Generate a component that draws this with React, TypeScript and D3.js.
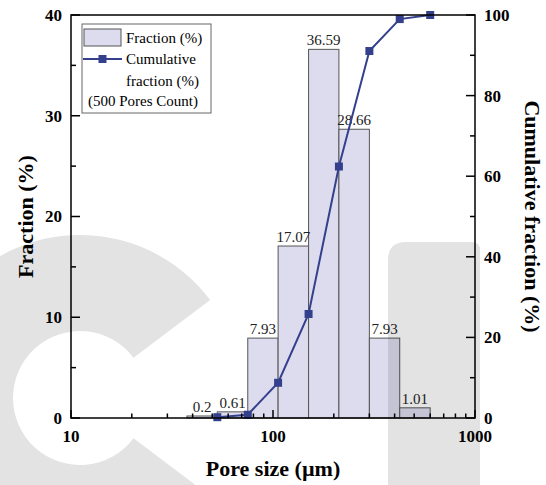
import React from "react";
import * as d3 from "d3";

const binEdges = [37.5, 53, 75, 106, 150, 212, 300, 424, 600];
const fractions = [0.2, 0.61, 7.93, 17.07, 36.59, 28.66, 7.93, 1.01];
const fractionLabels = ["0.2", "0.61", "7.93", "17.07", "36.59", "28.66", "7.93", "1.01"];
const cumX = [53, 75, 106, 150, 212, 300, 424, 600];
const cumulative = [0.2, 0.81, 8.74, 25.81, 62.4, 91.06, 98.99, 100];
const xTicksMajor = [10, 100, 1000];
const xTicksMinor = [20, 30, 40, 50, 60, 70, 80, 90, 200, 300, 400, 500, 600, 700, 800, 900];
const yLeftMajor = [0, 10, 20, 30, 40];
const yLeftMinor = [5, 15, 25, 35];
const yRightMajor = [0, 20, 40, 60, 80, 100];
const yRightMinor = [10, 30, 50, 70, 90];

const W = 546, H = 485;
const L = 71, R = 475, T = 15, B = 418;
const SERIF = "'Liberation Serif', 'Times New Roman', serif";
const LINE = "#34408c";
const BAR = "#dcdcee";

export default function App() {
  const x = d3.scaleLog().domain([10, 1000]).range([L, R]);
  const yL = d3.scaleLinear().domain([0, 40]).range([B, T]);
  const yR = d3.scaleLinear().domain([0, 100]).range([B, T]);
  const line = d3.line<number>().x((_, i) => x(cumX[i])).y((d) => yR(d));

  const cArc = d3.arc()({
    innerRadius: 67,
    outerRadius: 163,
    startAngle: (127 * Math.PI) / 180,
    endAngle: (413 * Math.PI) / 180,
  } as any) as string;

  return (
    <svg width={W} height={H} style={{ position: "absolute", left: 0, top: 0, background: "#fff" }} fontFamily={SERIF}>
      {/* bars */}
      {fractions.map((v, i) => (
        <rect key={"b" + i} x={x(binEdges[i])} y={yL(v)} width={x(binEdges[i + 1]) - x(binEdges[i])} height={B - yL(v)}
          fill={BAR} stroke="#555" strokeWidth={1} />
      ))}
      {fractions.map((v, i) => (
        <text key={"bl" + i} x={(x(binEdges[i]) + x(binEdges[i + 1])) / 2} y={yL(v) - 4} textAnchor="middle" fontSize={15} fill="#222">
          {fractionLabels[i]}
        </text>
      ))}
      {/* cumulative line */}
      <path d={line(cumulative) as string} fill="none" stroke={LINE} strokeWidth={2} />
      {cumulative.map((v, i) => (
        <rect key={"m" + i} x={x(cumX[i]) - 4} y={yR(v) - 4} width={8} height={8} fill={LINE} />
      ))}
      {/* frame */}
      <rect x={L} y={T} width={R - L} height={B - T} fill="none" stroke="#000" strokeWidth={1.5} />
      {/* x ticks */}
      {xTicksMajor.map((t) => (
        <g key={"xt" + t}>
          <line x1={x(t)} x2={x(t)} y1={B} y2={B - 8} stroke="#000" strokeWidth={1.5} />
          <text x={x(t)} y={B + 24} textAnchor="middle" fontSize={17} fontWeight="bold">{t}</text>
        </g>
      ))}
      {xTicksMinor.map((t) => (
        <line key={"xm" + t} x1={x(t)} x2={x(t)} y1={B} y2={B - 4.5} stroke="#000" strokeWidth={1.5} />
      ))}
      {/* left y ticks */}
      {yLeftMajor.map((t) => (
        <g key={"yl" + t}>
          <line x1={L} x2={L + 9} y1={yL(t)} y2={yL(t)} stroke="#000" strokeWidth={1.5} />
          <text x={L - 9} y={yL(t)} dy="0.35em" textAnchor="end" fontSize={17} fontWeight="bold">{t}</text>
        </g>
      ))}
      {yLeftMinor.map((t) => (
        <line key={"ylm" + t} x1={L} x2={L + 5} y1={yL(t)} y2={yL(t)} stroke="#000" strokeWidth={1.5} />
      ))}
      {/* right y ticks */}
      {yRightMajor.map((t) => (
        <g key={"yr" + t}>
          <line x1={R} x2={R - 9} y1={yR(t)} y2={yR(t)} stroke="#000" strokeWidth={1.5} />
          <text x={R + 9} y={yR(t)} dy="0.35em" textAnchor="start" fontSize={17} fontWeight="bold">{t}</text>
        </g>
      ))}
      {yRightMinor.map((t) => (
        <line key={"yrm" + t} x1={R} x2={R - 5} y1={yR(t)} y2={yR(t)} stroke="#000" strokeWidth={1.5} />
      ))}
      {/* axis titles */}
      <text x={(L + R) / 2} y={476} textAnchor="middle" fontSize={22} fontWeight="bold">Pore size (µm)</text>
      <text transform={`translate(25,${(T + B) / 2}) rotate(-90)`} textAnchor="middle" dy="0.35em" fontSize={22} fontWeight="bold">Fraction (%)</text>
      <text transform={`translate(533,${(T + B) / 2}) rotate(90)`} textAnchor="middle" dy="0.35em" fontSize={22} fontWeight="bold">Cumulative fraction (%)</text>
      {/* legend */}
      <g>
        <rect x={82} y={24} width={129} height={89} fill="#fff" stroke="#666" strokeWidth={1} />
        <rect x={84} y={29} width={37} height={17} fill={BAR} stroke="#555" strokeWidth={1} />
        <text x={126} y={43} fontSize={15}>Fraction (%)</text>
        <line x1={83} x2={122} y1={59} y2={59} stroke={LINE} strokeWidth={2} />
        <rect x={98.5} y={55} width={8} height={8} fill={LINE} />
        <text x={126} y={64} fontSize={15}>Cumulative</text>
        <text x={126} y={86} fontSize={15}>fraction (%)</text>
        <text x={88} y={106} fontSize={15}>(500 Pores Count)</text>
      </g>
      {/* watermark */}
      <g style={{ mixBlendMode: "multiply" }} fill="#e3e3e3">
        <path d={cArc} transform="translate(80,398)" />
        <path d={`M388,485 V260 Q388,242 406,242 H472 Q480,242 480,250 V485 Z`} />
      </g>
    </svg>
  );
}
